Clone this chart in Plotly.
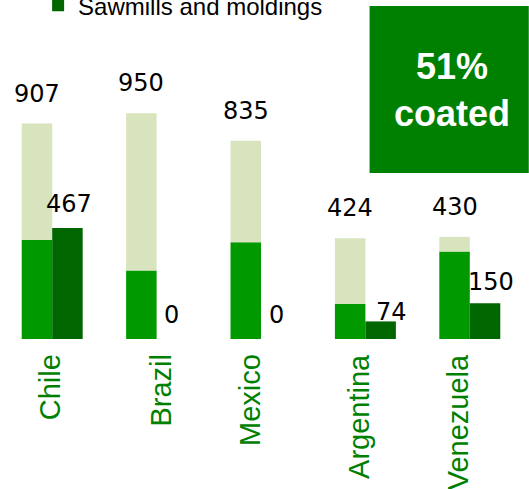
import plotly.graph_objects as go

# Volumes by country
countries = ["Chile", "Brazil", "Mexico", "Argentina", "Venezuela"]
coated = [417, 288, 407, 147, 368]
totals = [907, 950, 835, 424, 430]
sawmills = [467, 0, 0, 74, 150]

uncoated = [t - c for t, c in zip(totals, coated)]

GREEN = "#009900"
LIGHT = "#D8E4BD"
DARK = "#006600"
BOX = "#008000"

SANS = "Liberation Sans, Arial"
NUM_FONT = dict(family="DejaVu Sans", size=24, color="black")

fig = go.Figure()
fig.add_trace(go.Bar(x=countries, y=coated, name="Coated",
                     marker=dict(color=GREEN, line=dict(width=0)),
                     offsetgroup="a"))
fig.add_trace(go.Bar(x=countries, y=uncoated, base=coated, name="Uncoated",
                     marker=dict(color=LIGHT, line=dict(width=0)),
                     offsetgroup="a"))
fig.add_trace(go.Bar(x=countries, y=sawmills, name="Sawmills and moldings",
                     marker=dict(color=DARK, line=dict(width=0)),
                     offsetgroup="b"))

# half the width of one bar, in pixels, to centre labels over each bar
half_bar = 15.25
# small nudges for the right-hand labels so they do not collide
right_nudge_x = [2, 0, 0, 11, 6]
right_nudge_y = [0, 0.5, 0.5, -15, -3]
# horizontal nudges for the vertical country names
name_nudge_x = [-2, 3.5, -11, -7, -11.5]

annotations = []
for i, c in enumerate(countries):
    annotations.append(dict(x=c, y=totals[i], xref="x", yref="y",
                            text=str(totals[i]), showarrow=False,
                            xshift=-half_bar, yshift=14, yanchor="bottom",
                            font=NUM_FONT))
    annotations.append(dict(x=c, y=sawmills[i], xref="x", yref="y",
                            text=str(sawmills[i]), showarrow=False,
                            xshift=half_bar + right_nudge_x[i],
                            yshift=8 + right_nudge_y[i], yanchor="bottom",
                            font=NUM_FONT))
    # country name, reading upwards below the bars
    annotations.append(dict(x=c, y=0, xref="x", yref="y",
                            text=c, showarrow=False, textangle=-90,
                            xanchor="center", yanchor="top",
                            xshift=name_nudge_x[i], yshift=-13,
                            font=dict(family=SANS, size=29, color=BOX)))

annotations.append(dict(x=0.865, y=0.78, xref="paper", yref="paper",
                        text="<b>51%<br>coated</b>", showarrow=False,
                        xanchor="center", yanchor="middle",
                        font=dict(family=SANS, size=36, color="white")))

fig.update_layout(
    width=529, height=489,
    margin=dict(l=0, r=6.5, t=20, b=150, autoexpand=False),
    paper_bgcolor="white", plot_bgcolor="white",
    barmode="group", bargap=0.416, bargroupgap=0,
    showlegend=True,
    legend=dict(x=0.073, y=1.33, xanchor="left", yanchor="top",
                font=dict(family=SANS, size=24, color="black"),
                bgcolor="rgba(0,0,0,0)", traceorder="normal"),
    xaxis=dict(showgrid=False, zeroline=False, showline=False, ticks="",
               showticklabels=False),
    yaxis=dict(range=[0, 1343], visible=False),
    shapes=[dict(type="rect", xref="paper", yref="paper",
                 x0=0.708, x1=1.013, y0=0.5204, y1=1.0439,
                 fillcolor=BOX, line=dict(width=0), layer="above")],
    annotations=annotations,
)

fig.write_html("out.html")
